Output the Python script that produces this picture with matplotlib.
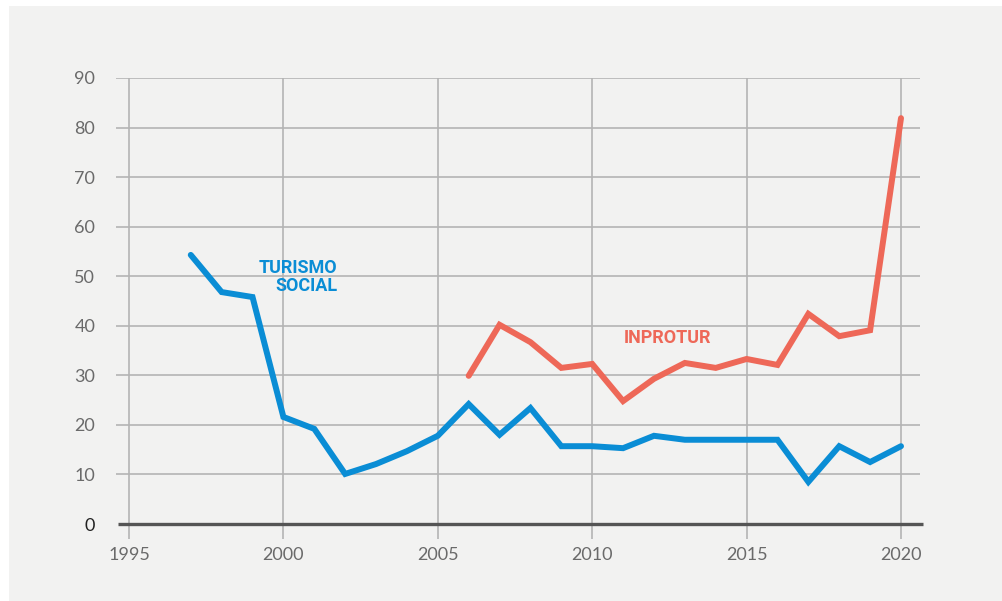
import matplotlib
matplotlib.use("Agg")
import matplotlib.pyplot as plt
from matplotlib.patches import Rectangle

years_social = list(range(1997, 2021))
turismo_social = [54.3, 46.8, 45.8, 21.6, 19.2, 10.1, 12.1, 14.7, 17.8, 24.2, 18.0, 23.4,
                  15.7, 15.7, 15.3, 17.8, 17.0, 17.0, 17.0, 17.0, 8.5, 15.7, 12.5, 15.7]
years_inprotur = list(range(2006, 2021))
inprotur = [29.9, 40.2, 36.7, 31.5, 32.3, 24.8, 29.3, 32.5, 31.5, 33.3, 32.1, 42.4, 37.9, 39.1, 81.9]

x_ticks = [1995, 2000, 2005, 2010, 2015, 2020]
y_ticks = [0, 10, 20, 30, 40, 50, 60, 70, 80, 90]

BG = "#f2f2f1"
BLUE = "#0a8dd5"
RED = "#ee6858"
GRID = "#b4b4b4"
TXT = "#6a6a6a"

plt.rcParams['font.family'] = ['Lato', 'DejaVu Sans']
label_family = ['Roboto', 'DejaVu Sans']

fig = plt.figure(figsize=(10.03, 6.01), dpi=100)
fig.patch.set_facecolor("white")
fig.patches.append(Rectangle((9/1003, 0), 1, (601-6)/601, transform=fig.transFigure,
                             facecolor=BG, edgecolor="none", zorder=-10))

ax = fig.add_axes([116/1003, 1-539/601, 804/1003, (539-78)/601])
ax.set_facecolor("none")
for s in ax.spines.values():
    s.set_visible(False)

ax.set_xlim(1995 - 13/30.88, 1995 + (920-129)/30.88)
ax.set_ylim(-15/4.956, 90)

for y in y_ticks[1:]:
    ax.axhline(y, color=GRID, lw=1.2, zorder=1)
for x in x_ticks:
    ax.axvline(x, color=GRID, lw=1.2, zorder=1)
ax.plot([1995 - 11/30.88, 1995 + (923-129)/30.88], [0, 0], color="#555555", lw=2.4,
        zorder=2, solid_capstyle="butt", clip_on=False)

ax.plot(years_social, turismo_social, color=BLUE, lw=4.3, zorder=3,
        solid_joinstyle="miter", solid_capstyle="round")
ax.plot(years_inprotur, inprotur, color=RED, lw=4.3, zorder=3,
        solid_joinstyle="miter", solid_capstyle="round")

ax.text(2001.74, 49.9, "TURISMO\nSOCIAL", color=BLUE, fontsize=13, fontweight="bold",
        ha="right", va="center", linespacing=1.0, family=label_family)
ax.text(2012.45, 37.6, "INPROTUR", color=RED, fontsize=13, fontweight="bold",
        ha="center", va="center", family=label_family)

ax.set_xticks(x_ticks)
ax.set_xticklabels([str(v) for v in x_ticks])
ax.set_yticks(y_ticks)
ax.set_yticklabels([str(v) for v in y_ticks])
ax.tick_params(axis="both", length=0, labelsize=13, labelcolor=TXT)
ax.tick_params(axis="y", pad=15)
ax.tick_params(axis="x", pad=6)
ax.get_yticklabels()[0].set_color("#222222")

fig.savefig("out.png", dpi=100, facecolor=fig.get_facecolor())
